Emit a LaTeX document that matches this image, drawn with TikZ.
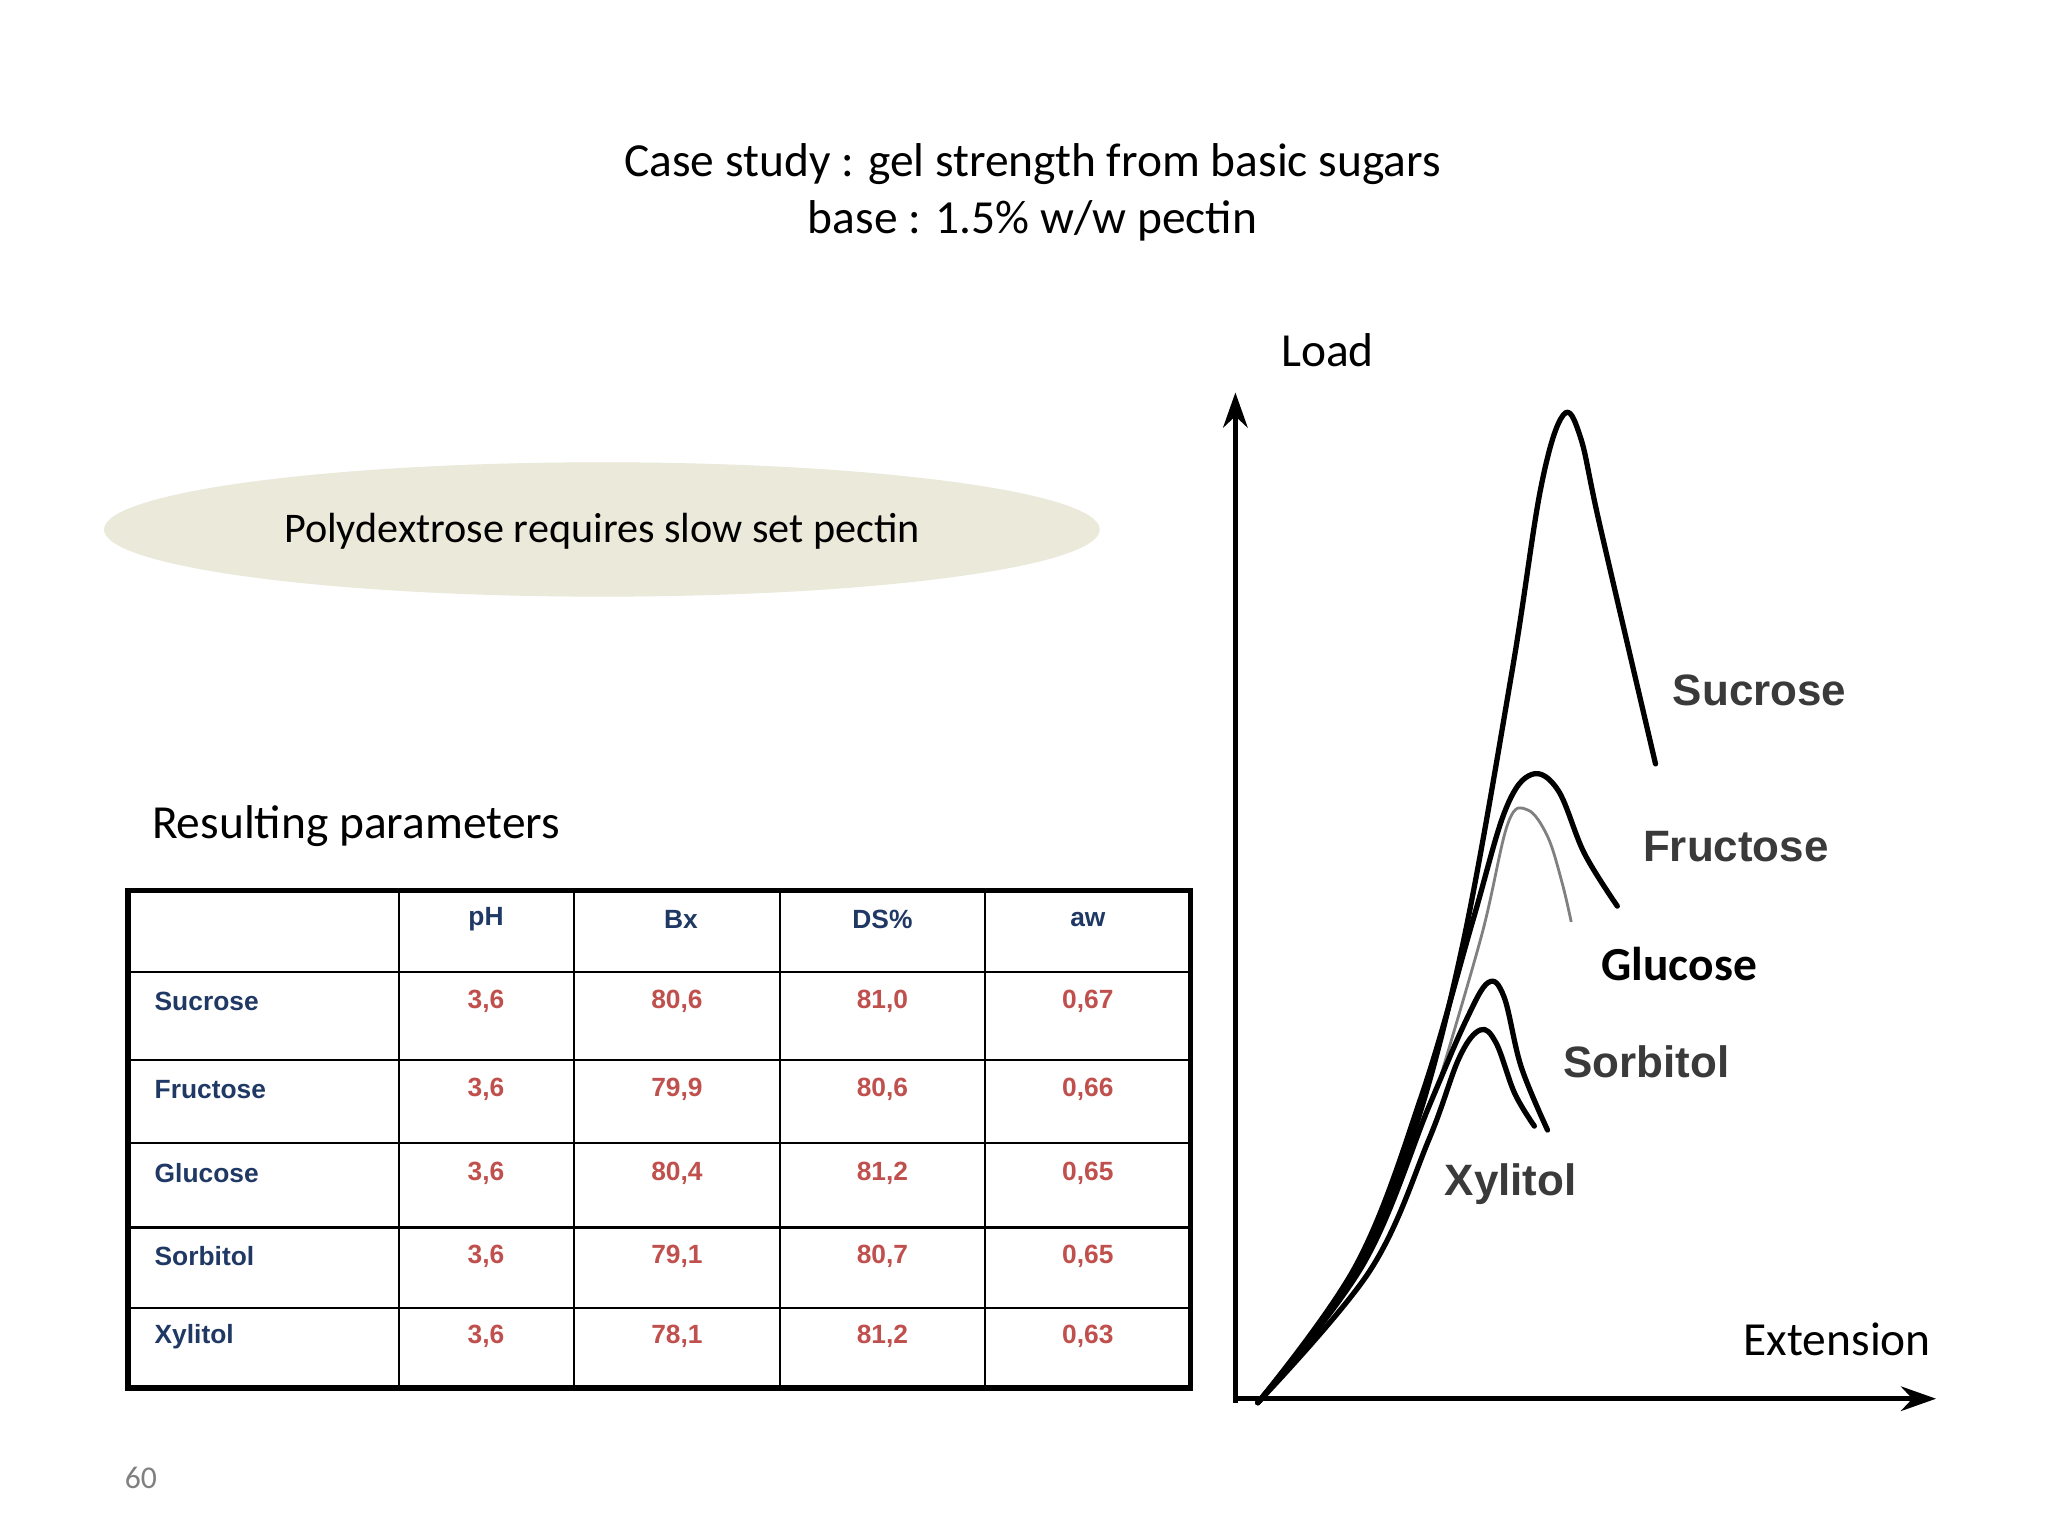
\documentclass[tikz,border=0pt]{standalone}
\usepackage{fontspec}
\setmainfont{Carlito}
\newfontfamily\tabfont{Liberation Sans}
\usetikzlibrary{arrows.meta}
\definecolor{navy}{HTML}{1F3864}
\definecolor{valred}{HTML}{C0504D}
\definecolor{beige}{HTML}{EAE9DA}
\definecolor{curvegray}{HTML}{3A3A3A}
\tikzset{
 hd/.style={font=\tabfont\bfseries\fontsize{7.5}{9}\selectfont,text=navy},
 nm/.style={font=\tabfont\bfseries\fontsize{7.5}{9}\selectfont,text=navy,anchor=west},
 vl/.style={font=\tabfont\bfseries\fontsize{7.5}{9}\selectfont,text=valred},
 curve/.style={line width=1.5pt,line cap=round,line join=round},
 clab/.style={font=\tabfont\bfseries\fontsize{12.5}{14}\selectfont,text=curvegray},
 big/.style={font=\fontsize{13.5}{16}\selectfont},
}
\begin{document}
\begin{tikzpicture}[x=0.01317cm,y=-0.01317cm]
\useasboundingbox[fill=white] (0,0) rectangle (1555,1166);
\node[big,align=center] (title) at (784,146) {Case study : gel strength from basic sugars\\base : 1.5\% w/w pectin};
\fill[beige] (457,402) ellipse [x radius=378, y radius=51];
\node[font=\fontsize{12}{14}\selectfont] (poly) at (457,403) {Polydextrose requires slow set pectin};
\node[big,anchor=west] (res) at (106,627) {Resulting parameters};
% table
\draw[line width=0.6pt] (303,676)--(303,1054) (436,676)--(436,1054) (592,676)--(592,1054) (748,676)--(748,1054);
\foreach \y in {738,805,868,932,993} \draw[line width=0.6pt] (97,\y)--(904,\y);
\draw[line width=1.6pt] (97,676) rectangle (904,1054);
\node[hd] (h1) at (369,698) {pH};
\node[hd] (h2) at (517,698) {Bx};
\node[hd] (h3) at (670,698) {DS\%};
\node[hd] (h4) at (826,698) {aw};
\foreach \n/\y/\a/\b/\c/\d in {Sucrose/760/{3,6}/{80,6}/{81,0}/{0,67}, Fructose/827/{3,6}/{79,9}/{80,6}/{0,66}, Glucose/891/{3,6}/{80,4}/{81,2}/{0,65}, Sorbitol/954/{3,6}/{79,1}/{80,7}/{0,65}, Xylitol/1015/{3,6}/{78,1}/{81,2}/{0,63}}{
 \node[nm] at (108,\y) {\n};
 \node[vl] at (369,\y) {\a};
 \node[vl] at (514,\y) {\b};
 \node[vl] at (670,\y) {\c};
 \node[vl] at (826,\y) {\d};
}
\node[font=\fontsize{9}{11}\selectfont,text=gray] (pg) at (107,1122) {60};
% axes
\coordinate (o) at (938,1065);
\coordinate (ytop) at (938,298);
\coordinate (xend) at (1470,1062);
\draw[line width=1.3pt,-{Stealth[length=10pt,width=7pt]}] (o)--(ytop);
\draw[line width=1.3pt,-{Stealth[length=10pt,width=7pt]}] (938,1062)--(xend);
\node[big] (load) at (1008,266) {Load};
\node[big] (ext) at (1395,1017) {Extension};
% curves
\draw[curve] plot[smooth,tension=0.6] coordinates {(955,1065) (1020,980) (1070,870) (1110,720) (1148,510) (1170,370) (1187,315) (1200,332) (1215,400) (1257,580)};
\draw[curve] plot[smooth,tension=0.6] coordinates {(955,1065) (1030,960) (1080,830) (1118,700) (1143,615) (1163,588) (1183,600) (1203,648) (1228,688)};
\draw[line width=0.8pt,gray] plot[smooth,tension=0.6] coordinates {(1090,830) (1125,710) (1145,625) (1160,615) (1175,635) (1186,670) (1193,700)};
\draw[curve] plot[smooth,tension=0.6] coordinates {(955,1065) (1035,960) (1085,840) (1113,775) (1130,746) (1142,757) (1155,810) (1175,858)};
\draw[curve] plot[smooth,tension=0.6] coordinates {(955,1065) (1040,965) (1085,865) (1108,803) (1124,782) (1136,792) (1150,830) (1165,855)};
\node[clab] (lsuc) at (1336,524) {Sucrose};
\node[clab] (lfru) at (1318,643) {Fructose};
\node[font=\bfseries\fontsize{13.5}{16}\selectfont] (lglu) at (1275,732) {Glucose};
\node[clab] (lsor) at (1250,806) {Sorbitol};
\node[clab] (lxyl) at (1147,899) {Xylitol};
\end{tikzpicture}
\end{document}
